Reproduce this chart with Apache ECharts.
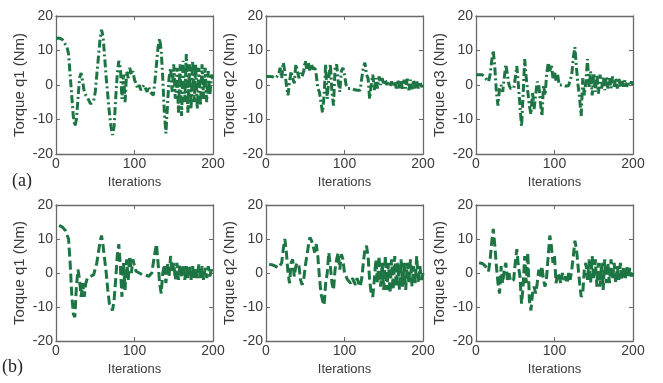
<!DOCTYPE html>
<html>
<head>
<meta charset="utf-8">
<script src="https://cdn.jsdelivr.net/npm/echarts@6/dist/echarts.min.js"></script>
<style>
html,body{margin:0;padding:0;background:#fff;}
#chart{width:663px;height:383px;}
</style>
</head>
<body>
<div id="chart"></div>
<script>
// ---------- data ----------
const xTicks = [0, 100, 200];
const yTicks = [-20, -10, 0, 10, 20];
const yNames = ['Torque q1 (Nm)', 'Torque q2 (Nm)', 'Torque q3 (Nm)'];
const rowLabels = ['(a)', '(b)'];

const iterA = [
  0, 2, 4, 6, 8, 10, 12, 14, 16, 18,
  20, 22, 24, 26, 28, 30, 32, 34, 36, 38,
  40, 42, 44, 46, 48, 50, 52, 54, 56, 58,
  60, 62, 64, 66, 68, 70, 72, 74, 76, 78,
  80, 82, 84, 86, 88, 90, 92, 94, 96, 98,
  100, 102, 104, 106, 108, 110, 112, 114, 116, 118,
  120, 122, 124, 126, 128, 130, 132, 134, 136, 138,
  140, 142, 144, 146, 148, 150, 152, 154, 156, 158,
  160, 162, 164, 166, 168, 170, 172, 174, 176, 178,
  180, 182, 184, 186, 188, 190, 192, 194, 196, 198,
  200
];
const iterB = [
  4, 6, 8, 10, 12, 14, 16, 18, 20, 22,
  24, 26, 28, 30, 32, 34, 36, 38, 40, 42,
  44, 46, 48, 50, 52, 54, 56, 58, 60, 62,
  64, 66, 68, 70, 72, 74, 76, 78, 80, 82,
  84, 86, 88, 90, 92, 94, 96, 98, 100, 102,
  104, 106, 108, 110, 112, 114, 116, 118, 120, 122,
  124, 126, 128, 130, 132, 134, 136, 138, 140, 142,
  144, 146, 148, 150, 152, 154, 156, 158, 160, 162,
  164, 166, 168, 170, 172, 174, 176, 178, 180, 182,
  184, 186, 188, 190, 192, 194, 196, 198, 200
];

const a_q1 = [
  13.5, 13.5, 13.6, 13.5, 13.2, 12.5, 12, 11, 9, 3,
  -3, -9, -12, -10, -4, 2, 3.5, 1, -2, -3,
  -3.5, -4.5, -5.5, -6, -4.5, -2, 3, 8, 13, 16,
  14, 8, 2, -3, -8, -12, -14.5, -12, -4, 3,
  7, 5, -4, 3, -5, 4, 2, 5, 3, 4,
  1.5, 0.5, -1, 0, -1.5, -2, 0, -1, -2, -0.5,
  -2, -2.5, -3, 1, 6, 11, 13.5, 10, 2, -8,
  -14, -6, 2, 5, -2, 6, -4, 5, -8, 6,
  -9, 7, -5, 9, -8, 6, -7, 7, -5, 6,
  -7, 5, -6, 6, -4, 5, -5, 4, -3, 3,
  1
];
const a_q2 = [
  2.5, 2.5, 2.5, 2.5, 2.4, 2.2, 2, 1.5, 3, 5,
  2, 6.5, 4, 0, -3, 1, 4, 2, 0.5, 6,
  4, 2, 3.5, 2.5, 4, 7, 4.5, 6.5, 4, 6,
  4.5, 5.5, 3, -1, -2, -5, -8, -3, 6, -4,
  2, 6, -2, -6, 5, 6, 1, -2, 4, 5,
  3, 0, -1, -1.2, -1, -1.5, -1.3, -1.6, -1.5, -1.8,
  -1.5, 2, 5, 6.5, 3, 2, -4, 0, 3, -1.5,
  2, -1, 2.5, 0, 2, 0, 1.5, 0, 1.2, -0.5,
  1, -0.5, 1, -1, 1.5, -1, 1.2, -1.5, 1.5, -1,
  1.8, -1.5, 1.5, -1.2, 1.5, -1, 1.2, -1, 1, -0.5,
  0
];
const a_q3 = [
  3, 3, 3, 3, 3, 2.5, 2, 1.5, 1, 3,
  7, 10, 5, -2, -6, -1, 0, -2, 2, 6,
  3, 0, -1, -0.5, -1, 2, 5.5, 0, -6, -12,
  -3, 7.5, 2, -2, -6, -8.5, -2, -7, -3, 1,
  0, -5, -9, 0, -3, 3, 6.5, 4, 6, 2,
  4, 1, 3, 0, -0.3, 0, -0.5, -0.3, -0.5, -0.2,
  0, 3, 8, 11, 5, 0, -4, -9, 2, -3,
  1, 7.5, -1, 4, -3, 3.5, -2, 3, -2.5, 3,
  -1, 2.5, -1.5, 2.5, -1, 2, -1, 2.5, -0.5, 2,
  -1, 2, -0.5, 1.5, -0.5, 1.5, -0.5, 1, 0, 1,
  0
];
const b_q1 = [
  14, 13.8, 13.5, 13, 12.5, 12, 10, 3, -6, -12,
  -13, -4, 1, -2, -7, -3, -7, -3, -1.5, -1,
  -1, -0.8, -0.5, 0, 3, 6, 9, 11, 8, 4,
  0, -5, -9, -10, -11, -8, -2, 5, 8.5, 2,
  -7, 3, -5, 4, -2, 5, 0, 4, 2, 0.5,
  1, 0, 0.5, -0.5, 0, -0.5, -0.8, -1, -1, 0,
  3, 6, 8.5, 3, -3, -6, 0, 2.5, -3, 3,
  -1, 5, 0, 3, -2, 3, -2, 2.5, -1.5, 2.5,
  -2, 2, -1.5, 2, -2, 2, -1.5, 1.5, -1.5, 2.5,
  -1.5, 2, -2, 1.5, -1.5, 2, -1, 1, 0
];
const b_q2 = [
  2.5, 2.5, 2.4, 2.2, 2, 2, 1.5, 1, 3, 7,
  10, 6, 0, -3, 3, 4, -1, 2, 3, 2,
  -2, -3.5, -2, 2, 5, 8, 10.5, 9.5, 8, 6,
  8.5, 5, -1, -6, -8, -9.5, -3, 0, 6, 2,
  -3, -5, 1, 4, 6, 1, 5.5, 4, 0, -1,
  -2, -1.5, -3, -1.5, -2.5, -3.5, -1.5, -3, -4, -1.5,
  3, 7, 8, 5, -2, -6, -7, -2, 4, -3,
  5, -4, 3, -5, 5, -5, 3, -6, 4, -5,
  5, -4, 3, -5, 4, -4, 3, -5, 3, -3,
  4, -4, 2, -3, 5, -3, 2, -2, 0
];
const b_q3 = [
  3, 3, 2.8, 2.5, 2, 1.5, 0.5, 4, 9, 13,
  8, 2, -3, -6, 2, -3, 1, 3, -2, 0,
  -2.5, -3, -2, 3, 7, 2, -1, -9, -4, 5,
  -3, 6, -8, -11, -6, -4, -6, -3, 1, -1,
  2, -2, -4, -1, 5, 11, 8, 3, 5, -3,
  0, -1, -3, 0, -2, -1, -3, 0, -2, 1,
  5, 9.5, 7, 2, -3, -7, -6, 1, 3, -2,
  4, -3, 5, -2, 4, -4, 3, -4, 3, -5,
  4, -3, 3, -3, 4, -2, 3, -3, 2, -2,
  3, -2, 2, -2, 2, -1.5, 1.5, -1, 0
];

// ---------- layout / styles ----------
const panels = [
  {row: 0, col: 0, x: iterA, y: a_q1},
  {row: 0, col: 1, x: iterA, y: a_q2},
  {row: 0, col: 2, x: iterA, y: a_q3},
  {row: 1, col: 0, x: iterB, y: b_q1},
  {row: 1, col: 1, x: iterB, y: b_q2},
  {row: 1, col: 2, x: iterB, y: b_q3}
];
const colLeft = [56, 266, 476];
const rowTop = [16, 205];
const rowH = [138, 136];
const plotW = 157;
const lineColor = '#1c7543';
const boxColor = '#6a6a6a';
const textColor = '#3a3a3a';
const font = '"Liberation Sans", Arial, sans-serif';
const dashStyles = [[8, 3, 2, 3], [9, 4]];

const grid = [], xAxis = [], yAxis = [], series = [];
panels.forEach((p, i) => {
  grid.push({left: colLeft[p.col], top: rowTop[p.row], width: plotW, height: rowH[p.row], containLabel: false});
  const tick = {show: true, inside: true, length: 4, lineStyle: {color: boxColor}};
  const line = {show: true, onZero: false, lineStyle: {color: boxColor, width: 1.3}};
  xAxis.push({
    gridIndex: i, type: 'value', min: xTicks[0], max: xTicks[xTicks.length - 1], interval: xTicks[1] - xTicks[0],
    position: 'bottom', axisLine: line, axisTick: tick, splitLine: {show: false},
    axisLabel: {color: textColor, fontSize: 14, fontFamily: font, margin: 3},
    name: 'Iterations', nameLocation: 'middle', nameGap: 22,
    nameTextStyle: {color: textColor, fontSize: 13, fontFamily: font}
  });
  xAxis.push({
    gridIndex: i, type: 'value', min: xTicks[0], max: xTicks[xTicks.length - 1], interval: xTicks[1] - xTicks[0],
    position: 'top', axisLine: line, axisTick: tick, splitLine: {show: false}, axisLabel: {show: false}
  });
  yAxis.push({
    gridIndex: i, type: 'value', min: yTicks[0], max: yTicks[yTicks.length - 1], interval: yTicks[1] - yTicks[0],
    position: 'left', axisLine: line, axisTick: tick, splitLine: {show: false},
    axisLabel: {color: textColor, fontSize: 14, fontFamily: font, margin: 3},
    name: yNames[p.col], nameLocation: 'middle', nameGap: 29,
    nameTextStyle: {color: textColor, fontSize: 15, fontFamily: font}
  });
  yAxis.push({
    gridIndex: i, type: 'value', min: yTicks[0], max: yTicks[yTicks.length - 1], interval: yTicks[1] - yTicks[0],
    position: 'right', axisLine: line, axisTick: tick, splitLine: {show: false}, axisLabel: {show: false}
  });
  series.push({
    type: 'line', xAxisIndex: i * 2, yAxisIndex: i * 2,
    data: p.x.map((v, k) => [v, p.y[k]]),
    showSymbol: false, symbol: 'none', animation: false,
    lineStyle: {color: lineColor, width: 3, type: dashStyles[p.row]}
  });
});

const chart = echarts.init(document.getElementById('chart'), null, {renderer: 'canvas'});
chart.setOption({
  animation: false,
  backgroundColor: '#fff',
  grid, xAxis, yAxis, series,
  graphic: [
    {type: 'text', left: 12, top: 172, style: {text: rowLabels[0], font: '18px "Liberation Serif", "Times New Roman", serif', fill: '#222'}},
    {type: 'text', left: 2, top: 358, style: {text: rowLabels[1], font: '18px "Liberation Serif", "Times New Roman", serif', fill: '#222'}}
  ]
});
</script>
</body>
</html>
